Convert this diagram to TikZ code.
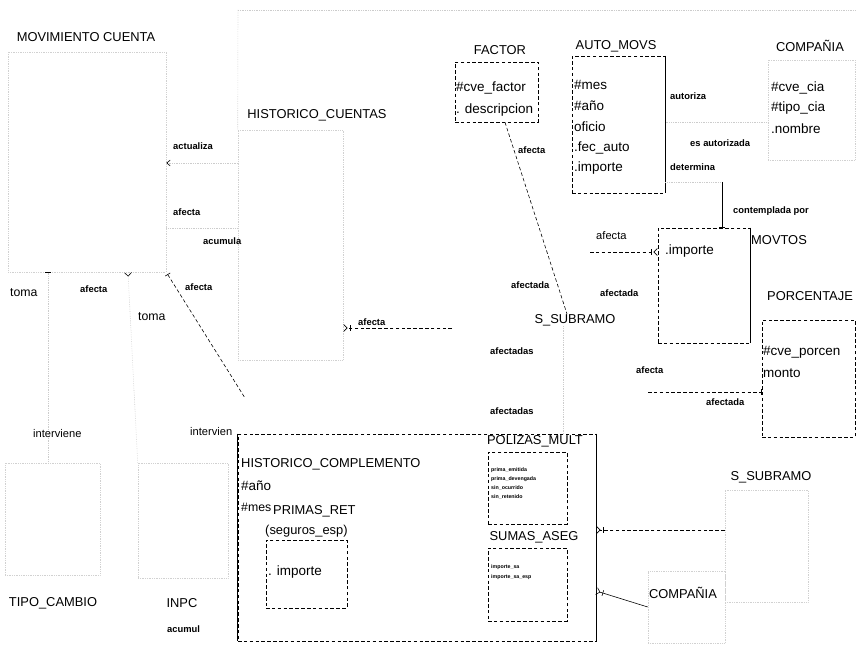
\documentclass[tikz,border=0pt]{standalone}
\usepackage{fontspec}
\setmainfont{Liberation Sans}
\usetikzlibrary{arrows.meta, positioning, calc}

\tikzset{
  box/.style={draw, densely dashed, line width=0.5pt, inner sep=0pt},
  faintbox/.style={draw=black!18, densely dotted, line width=0.5pt, inner sep=0pt},
  sz/.style 2 args={minimum width=#1*0.03cm, minimum height=#2*0.03cm},
  title/.style={inner sep=0pt, font=\fontsize{11}{13}\selectfont},
  attr/.style={anchor=west, inner sep=0pt, font=\fontsize{11.5}{13}\selectfont},
  tinyattr/.style={anchor=west, inner sep=0pt, font=\fontsize{4.5}{5}\selectfont\bfseries},
  lbl/.style={anchor=west, inner sep=0pt, font=\fontsize{8}{9.5}\selectfont\bfseries},
  rel/.style={densely dashed, line width=0.5pt},
  faintrel/.style={draw=black!20, densely dotted, line width=0.5pt},
  one/.style={-{Bar[black,width=5pt]}},
  many/.style={-{Bar[black,width=5pt,sep=2pt]Straight Barb[black,reversed,length=3pt,width=6pt]}},
}

\begin{document}
\begin{tikzpicture}[x=0.03cm, y=-0.03cm]
  \useasboundingbox (0,0) rectangle (859,649);

  % entidades
  \node[faintbox, sz={158}{220}] (mc) at (87,162) {};
  \node[faintbox, sz={105}{230}] (hcue) at (290.5,245) {};
  \node[box, sz={83}{60}] (factor) at (496.5,92) {};
  \node[box, sz={93}{137}] (automovs) at (618.5,124.5) {};
  \node[faintbox, sz={87}{100}] (cia) at (811.5,110) {};
  \node[box, sz={92}{115}] (movtos) at (704,285.5) {};
  \node[box, sz={93}{117}] (porc) at (808.5,378.5) {};
  \node[faintbox, sz={95}{112}] (tipo) at (52.5,519) {};
  \node[faintbox, sz={90}{115}] (inpc) at (183,520.5) {};
  \node[box, sz={358}{207}] (hcomp) at (417,537.5) {};
  \node[box, sz={81}{68}] (primas) at (306.5,574) {};
  \node[box, sz={79}{72}] (polizas) at (527.5,488) {};
  \node[box, sz={79}{73}] (sumas) at (527.5,584.5) {};
  \node[faintbox, sz={83}{112}] (ssub2) at (766.5,546) {};
  \node[faintbox, sz={77}{72}] (cia2) at (686.5,607) {};
  \node[title] (ssub1) at (575,320) {S\_SUBRAMO};

  % lados continuos
  \draw[line width=0.6pt] (automovs.north east) -- (automovs.south east);
  \draw[line width=0.6pt] (movtos.north east) -- (movtos.south east);
  \draw[line width=0.6pt] (hcomp.north west) -- (hcomp.south west);
  \draw[line width=0.6pt] (hcomp.north east) -- (hcomp.south east);
  \draw[faintrel] (238,10) -- (855,10);
  \draw[faintrel] (238,10) -- (hcue.north west);

  % titulos
  \node[title] (mct) at (86,37) {MOVIMIENTO CUENTA};
  \node[title] (hcuet) at (317,115) {HISTORICO\_CUENTAS};
  \node[title] (factort) at (500,50) {FACTOR};
  \node[title] (automovst) at (616,46) {AUTO\_MOVS};
  \node[title] (ciat) at (810,46) {COMPAÑIA};
  \node[title, anchor=west] (movtost) at (751,240) {MOVTOS};
  \node[title] (porct) at (810,296) {PORCENTAJE};
  \node[title] (tipot) at (53,603) {TIPO\_CAMBIO};
  \node[title] (inpct) at (182,603) {INPC};
  \node[title, anchor=west] (hcompt) at (241,464) {HISTORICO\_COMPLEMENTO};
  \node[title, anchor=west] (primast) at (273,511) {PRIMAS\_RET};
  \node[title, anchor=west] (primass) at (265,531) {(seguros\_esp)};
  \node[title] (polizast) at (535,441) {POLIZAS\_MULT};
  \node[title] (sumast) at (534,537) {SUMAS\_ASEG};
  \node[title] (ssub2t) at (771,477) {S\_SUBRAMO};
  \node[title] (cia2t) at (683,593) {COMPAÑIA};

  % atributos
  \node[attr] at (456,88) {\#cve\_factor};
  \node[attr] at (456,110) {. descripcion};
  \node[attr] at (574,85) {\#mes};
  \node[attr] at (574,106) {\#año};
  \node[attr] at (574,127) {oficio};
  \node[attr] at (574,148) {.fec\_auto};
  \node[attr] at (574,168) {.importe};
  \node[attr] at (771,88) {\#cve\_cia};
  \node[attr] at (771,108) {\#tipo\_cia};
  \node[attr] at (771,129) {.nombre};
  \node[attr] at (665,251) {.importe};
  \node[attr] at (763,352) {\#cve\_porcen};
  \node[attr] at (763,373) {monto};
  \node[attr] at (241,486) {\#año};
  \node[attr, font=\fontsize{10.5}{12}\selectfont] at (241,507) {\#mes};
  \node[attr] at (268,572) {. importe};
  \node[tinyattr] at (491,470) {prima\_emitida};
  \node[tinyattr] at (491,479) {prima\_devengada};
  \node[tinyattr] at (491,488) {sin\_ocurrido};
  \node[tinyattr] at (491,497) {sin\_retenido};
  \node[tinyattr] at (491,567) {importe\_sa};
  \node[tinyattr] at (491,577) {importe\_sa\_esp};

  % relaciones
  \draw[faintrel, -{Straight Barb[black,length=3pt,width=5pt]}] (hcue.west |- 0,163) -- (mc.east |- 0,163);
  \draw[faintrel] (mc.east |- 0,228) -- (hcue.west |- 0,228);
  \draw[faintrel, {Bar[black,width=5pt]}-] (mc.south -| 48,0) -- (tipo.north -| 48,0);
  \draw[faintrel, {Straight Barb[black,reversed,length=3pt,width=6pt]}-] (mc.south -| 128,0) -- (inpc.north west);
  \coordinate (dgend) at (245,398);
  \draw[rel, {Bar[width=5pt,sep=2pt]}-] (mc.south east) -- (dgend);
  \coordinate (hcend) at (452,328);
  \draw[rel, many] (hcend) -- (hcue.east |- 0,328);
  \draw[rel] (factor.south -| 505,0) -- (ssub1.north -| 567,0);
  \draw[faintrel, {Bar[black,width=5pt]}-] (automovs.east |- 0,122) -- (cia.west |- 0,122);
  \coordinate (amturn) at (722,182);
  \draw[faintrel] (automovs.east |- amturn) -- (amturn);
  \draw[line width=0.5pt, one] (amturn) -- (movtos.north -| amturn);
  \coordinate (mvend) at (590,252);
  \draw[rel, many] (mvend) -- (movtos.west |- mvend);
  \coordinate (pcend) at (648,392);
  \draw[rel, one] (pcend) -- (porc.west |- pcend);
  \draw[faintrel] (ssub1.south -| 563,0) -- (hcomp.north -| 563,0);
  \draw[rel, many] (ssub2.west |- 0,530) -- (hcomp.east |- 0,530);
  \draw[line width=0.5pt, many] (cia2.west |- 0,607) -- (hcomp.east |- 0,591);

  % etiquetas
  \node[lbl] at (173,146) {actualiza};
  \node[lbl] at (173,212) {afecta};
  \node[lbl] at (203,241) {acumula};
  \node[attr, font=\fontsize{10.5}{12}\selectfont] at (10,293) {toma};
  \node[lbl] at (80,289) {afecta};
  \node[attr, font=\fontsize{10.5}{12}\selectfont] at (138,317) {toma};
  \node[lbl] at (185,287) {afecta};
  \node[lbl, font=\fontsize{9.5}{11}\selectfont] at (33,434) {interviene};
  \node[lbl, font=\fontsize{9.5}{11}\selectfont] at (190,432) {intervien};
  \node[lbl] at (358,322) {afecta};
  \node[lbl] at (518,150) {afecta};
  \node[lbl] at (511,285) {afectada};
  \node[lbl] at (490,351) {afectadas};
  \node[lbl] at (490,411) {afectadas};
  \node[attr, font=\fontsize{9.5}{11}\selectfont] at (596,236) {afecta};
  \node[lbl] at (600,293) {afectada};
  \node[lbl] at (636,370) {afecta};
  \node[lbl] at (706,402) {afectada};
  \node[lbl] at (670,96) {autoriza};
  \node[lbl] at (690,143) {es autorizada};
  \node[lbl] at (670,167) {determina};
  \node[lbl] at (733,211) {contemplada por};
  \node[lbl] at (167,629) {acumul};
\end{tikzpicture}
\end{document}
